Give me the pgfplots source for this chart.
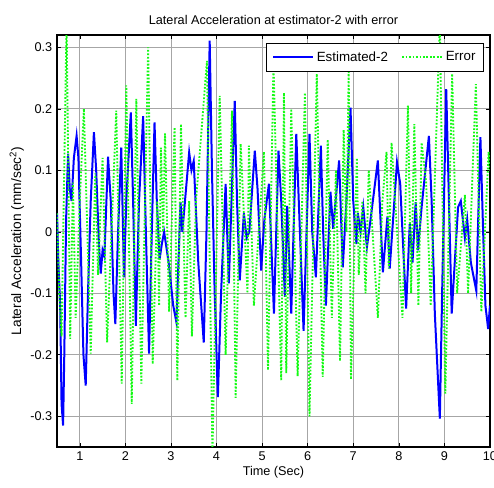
\documentclass[border=0pt]{standalone}
\usepackage{fontspec}
\setmainfont{Liberation Sans}
\usepackage{pgfplots}
\pgfplotsset{compat=1.18}
\definecolor{estblue}{RGB}{0,0,255}
\definecolor{errgreen}{RGB}{20,250,20}
\begin{document}
\begin{tikzpicture}
\begin{axis}[
  scale only axis,
  width=324.75pt, height=309pt,
  xmin=0.5, xmax=10, ymin=-0.35, ymax=0.32,
  xtick={1,2,...,10},
  ytick={-0.3,-0.2,-0.1,0,0.1,0.2,0.3},
  yticklabels={-0.3,-0.2,-0.1,0,0.1,0.2,0.3},
  /pgf/number format/assume math mode=true,
  tick align=inside,
  major tick length=3pt,
  tick style={black, thin},
  grid=major,
  major grid style={gray!70, line width=0.6pt},
  axis line style={black, line width=0.8pt},
  tick label style={font=\fontsize{9.5}{11}\selectfont},
  xlabel style={font=\fontsize{9.5}{11}\selectfont, yshift=3pt},
  ylabel style={font=\fontsize{10.3}{12}\selectfont, yshift=-2pt},
  title style={font=\fontsize{9.5}{11}\selectfont, yshift=-2pt},
  title={Lateral Acceleration at estimator-2 with error},
  xlabel={Time (Sec)},
  ylabel={Lateral Acceleration (mm/sec\textsuperscript{2})},
  legend columns=2,
  legend style={at={(1,1)}, anchor=north east, xshift=-4.5pt, yshift=-6pt,
    font=\fontsize{10}{12}\selectfont, draw=black, line width=0.8pt,
    inner ysep=4pt, inner xsep=4pt,
    /tikz/every even column/.append style={column sep=8pt}},
  legend image code/.code={\draw[#1] (0pt,0pt) -- (30pt,0pt);},
  legend cell align=left,
]
\addplot[color=estblue, line width=1.5pt] coordinates {
(0.5,0.03) (0.53,-0.05) (0.57,-0.12) (0.6,-0.28) (0.634,-0.315) (0.66,-0.2) (0.7,0.02)
(0.743,0.127) (0.78,0.07) (0.82,0.05) (0.87,0.12) (0.93,0.156) (0.97,0.12) (1.03,-0.05)
(1.08,-0.2) (1.13,-0.25) (1.18,-0.1) (1.24,0.05) (1.31,0.162) (1.36,0.1) (1.42,-0.02)
(1.46,-0.068) (1.5,-0.03) (1.54,-0.04) (1.62,0.122) (1.68,0.05) (1.74,-0.1) (1.78,-0.15)
(1.84,0.0) (1.91,0.137) (1.95,0.0) (1.97,-0.074) (2.02,0.05) (2.12,0.194) (2.17,0.05)
(2.23,-0.153) (2.3,0.05) (2.39,0.188) (2.45,0.0) (2.52,-0.198) (2.58,0.0) (2.64,0.178)
(2.69,0.05) (2.75,-0.045) (2.8,-0.02) (2.85,0.0) (2.95,-0.05) (3.05,-0.12) (3.12,-0.147)
(3.21,0.048) (3.25,0.0) (3.4,0.129) (3.45,0.1) (3.5,0.115) (3.6,-0.05) (3.72,-0.18)
(3.78,0.0) (3.85,0.311) (3.9,0.1) (3.96,-0.1) (4.03,-0.269) (4.1,-0.1) (4.2,0.078)
(4.27,-0.084) (4.40,0.213) (4.45,0.05) (4.51,-0.079) (4.60,0.03) (4.66,-0.01) (4.72,0.0)
(4.84,0.132) (4.9,0.07) (4.98,-0.063) (5.05,0.02) (5.15,0.078) (5.26,-0.133) (5.36,0.132)
(5.42,0.05) (5.5,-0.106) (5.55,0.042) (5.64,-0.133) (5.75,0.159) (5.83,0.0) (5.91,-0.161)
(6.04,0.159) (6.1,0.0) (6.18,-0.074) (6.29,0.14) (6.34,0.0) (6.40,-0.12) (6.5,0.065)
(6.56,0.005) (6.69,0.116) (6.77,-0.058) (6.85,0.05) (6.94,0.202) (7.0,0.05) (7.07,-0.02)
(7.1,0.03) (7.16,0.0) (7.22,0.04) (7.3,-0.025) (7.38,0.02) (7.54,0.116) (7.58,0.05)
(7.65,-0.066) (7.75,0.025) (7.8,-0.06) (7.96,0.113) (8.03,0.078) (8.16,-0.125) (8.24,0.013)
(8.3,-0.05) (8.37,0.048) (8.42,-0.03) (8.5,0.04) (8.66,0.156) (8.72,0.05) (8.79,-0.133)
(8.9,-0.304) (8.95,-0.1) (9.04,0.232) (9.1,0.05) (9.16,-0.133) (9.3,0.04) (9.36,0.05)
(9.45,-0.01) (9.5,0.02) (9.58,-0.05) (9.70,-0.096) (9.79,0.154) (9.85,0.0) (9.9,-0.12)
(9.96,-0.158) (10.0,-0.12)
};
\addlegendentry{Estimated-2}
\addplot[color=errgreen, line width=1.4pt, dash pattern=on 1.3pt off 1.3pt] coordinates {
(0.5,0.03) (0.55,-0.1) (0.6,-0.17) (0.71,0.34) (0.79,-0.174) (0.85,0.08) (0.91,-0.14)
(1.0,0.05) (1.09,0.2) (1.24,-0.198) (1.34,0.095) (1.4,-0.07) (1.5,0.12) (1.6,-0.18)
(1.8,0.197) (1.92,-0.247) (2.02,0.238) (2.14,-0.28) (2.24,0.216) (2.35,-0.247) (2.5,0.30)
(2.6,-0.215) (2.7,0.05) (2.74,-0.12) (2.78,0.137) (2.83,0.0) (2.87,0.16) (2.96,-0.13)
(3.08,0.17) (3.14,-0.242) (3.22,0.175) (3.32,-0.14) (3.4,0.05) (3.46,-0.17) (3.55,0.05)
(3.79,0.278) (3.91,-0.36) (4.07,0.221) (4.2,-0.2) (4.34,0.197) (4.42,-0.27) (4.53,0.143)
(4.68,-0.1) (4.71,0.14) (4.82,-0.12) (5.04,0.13) (5.13,-0.225) (5.25,0.273) (5.42,-0.242)
(5.48,0.226) (5.53,-0.23) (5.64,0.2) (5.78,-0.235) (5.94,0.226) (6.04,-0.30) (6.2,0.257)
(6.33,-0.236) (6.44,0.15) (6.53,-0.14) (6.62,0.1) (6.71,-0.21) (6.79,0.166) (6.85,0.0)
(6.9,0.26) (6.95,-0.24) (7.08,0.12) (7.12,-0.07) (7.2,0.05) (7.27,-0.1) (7.34,0.1)
(7.54,-0.14) (7.64,0.05) (7.73,0.13) (7.78,-0.06) (7.84,0.145) (8.08,-0.14) (8.2,0.205)
(8.27,-0.1) (8.34,0.175) (8.43,-0.12) (8.5,0.145) (8.6,0.08) (8.7,-0.12) (8.9,0.34)
(9.02,-0.263) (9.17,0.257) (9.28,-0.1) (9.45,0.06) (9.52,-0.1) (9.69,0.24) (9.81,-0.13)
(9.97,0.13) (10.0,0.1)
};
\addlegendentry{Error}
\end{axis}
\pgfresetboundingbox
\path (-42.75pt,-30.75pt) rectangle (327.75pt,335.25pt);
\end{tikzpicture}
\end{document}
